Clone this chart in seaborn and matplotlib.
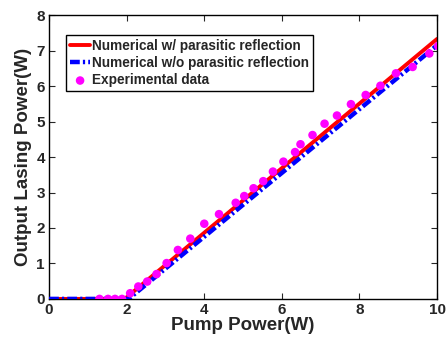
import matplotlib
matplotlib.use("Agg")
import matplotlib.pyplot as plt
import seaborn as sns
import pandas as pd

# Data
red_x = [0.0, 1.95, 10.0]
red_y = [0.0, 0.0, 7.33]
blue_x = [0.0, 2.05, 10.0]
blue_y = [0.0, 0.0, 7.15]
exp_x = [1.3, 1.52, 1.7, 1.88, 2.09, 2.3, 2.53, 2.77, 3.03, 3.32, 3.64, 4.0, 4.38,
         4.81, 5.03, 5.27, 5.52, 5.77, 6.04, 6.34, 6.48, 6.79, 7.1, 7.42, 7.78,
         8.16, 8.54, 8.94, 9.37, 9.8, 10.03]
exp_y = [0, 0, 0, 0, 0.16, 0.35, 0.49, 0.70, 1.01, 1.38, 1.70, 2.12, 2.39,
         2.71, 2.90, 3.12, 3.32, 3.59, 3.87, 4.14, 4.36, 4.62, 4.94, 5.17, 5.49,
         5.75, 6.01, 6.36, 6.54, 6.92, 7.13]
labels = ["Numerical w/ parasitic reflection",
          "Numerical w/o parasitic reflection",
          "Experimental data"]
x_ticks = [0, 2, 4, 6, 8, 10]
y_ticks = [0, 1, 2, 3, 4, 5, 6, 7, 8]

sns.set_style("ticks")
plt.rcParams['font.family'] = ['Liberation Sans', 'DejaVu Sans']
plt.rcParams['font.weight'] = 'bold'

fig = plt.figure(figsize=(4.46, 3.37), dpi=100)
ax = fig.add_axes([0.11, 0.113, 0.87, 0.842])

sns.lineplot(x=red_x, y=red_y, ax=ax, color="#ff0000", linewidth=2.8,
             estimator=None, sort=False, label=labels[0], zorder=2)
sns.lineplot(x=blue_x, y=blue_y, ax=ax, color="#0000ff", linewidth=3.2,
             dashes=False, estimator=None, sort=False, label=labels[1], zorder=3)
ax.lines[-1].set_dashes([2.2, 0.7, 0.5, 0.7])
sns.scatterplot(x=exp_x, y=exp_y, ax=ax, color="#ff00ff", s=38, edgecolor="none",
                label=labels[2], zorder=4)

ax.set_xlim(0, 10)
ax.set_ylim(0, 8)
ax.set_xticks(x_ticks)
ax.set_yticks(y_ticks)
ax.tick_params(direction="in", top=True, right=True, labelsize=11, length=4,
               width=0.8, pad=3)
for lab in ax.get_xticklabels() + ax.get_yticklabels():
    lab.set_fontweight("bold")
for sp in ax.spines.values():
    sp.set_linewidth(1.0)
    sp.set_color("black")
ax.set_xlabel("Pump Power(W)", fontsize=13.5, fontweight="bold", labelpad=0)
ax.set_ylabel("Output Lasing Power(W)", fontsize=13.5, fontweight="bold", labelpad=3)

leg = ax.legend(loc="upper left", bbox_to_anchor=(0.044, 0.93), fontsize=9.8,
                frameon=True, fancybox=False, edgecolor="black", framealpha=1,
                handlelength=1.45, handletextpad=0.15, borderpad=0.3,
                labelspacing=0.22, borderaxespad=0)
leg.get_frame().set_linewidth(1.0)
for t in leg.get_texts():
    t.set_fontweight("bold")

fig.savefig("out.png", dpi=100)
